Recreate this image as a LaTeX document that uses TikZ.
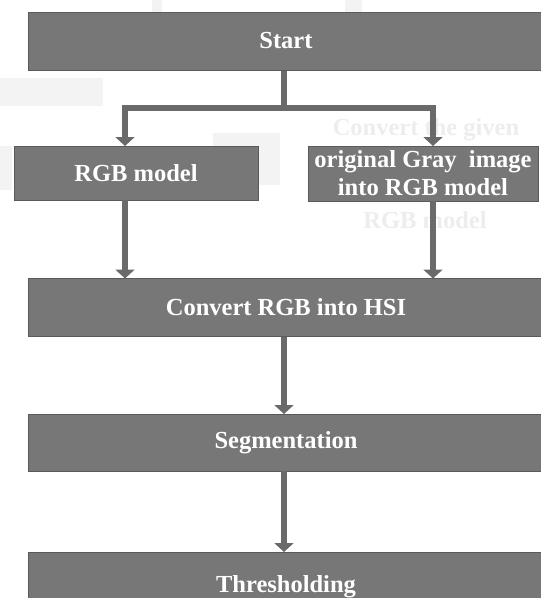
\documentclass[tikz,border=0pt]{standalone}
\usepackage{fontspec}
\setmainfont{Liberation Serif}
\usetikzlibrary{arrows.meta}
\definecolor{boxfill}{HTML}{777777}
\definecolor{boxline}{HTML}{5A5A5A}
\definecolor{arrowc}{HTML}{6A6A6A}
\definecolor{ghost}{HTML}{EDEDED}
\definecolor{ghostb}{HTML}{F3F3F3}
\tikzset{
  box/.style={draw=boxline, line width=1pt, fill=boxfill, text=white,
    font=\bfseries\fontsize{24.5}{28}\selectfont, align=center,
    inner sep=0pt, outer sep=0pt},
  flow/.style={draw=arrowc, line width=6.5pt,
    -{Triangle[width=19pt,length=9pt]}},
  ghosttext/.style={text=ghost, font=\bfseries\fontsize{24.5}{28}\selectfont, inner sep=0pt},
  ghostbox/.style={fill=ghostb, draw=none}
}
\begin{document}
\begin{tikzpicture}[x=1pt,y=-1pt]
\useasboundingbox (0,0) rectangle (541,598);
% faint background blocks
\fill[ghostbox] (0,78) rectangle (103,106);
\fill[ghostbox] (152,0) rectangle (162,12);
\fill[ghostbox] (345,0) rectangle (362,12);
\fill[ghostbox] (213,133) rectangle (280,185);
\fill[ghostbox] (0,146) rectangle (12,190);
% ghost texts
\node[ghosttext] (g1) at (426,130) {Convert the given};
\node[ghosttext] (g2) at (425,220) {RGB model};
% boxes
\node[box, minimum width=516pt, minimum height=58pt] (start) at (286,41) {Start};
\node[box, minimum width=244pt, minimum height=54pt] (rgb) at (136,173) {RGB model};
\node[box, minimum width=230pt, minimum height=55pt] (gray) at (423,173.5) {original Gray\ \ image\\[0pt]into RGB model};
\node[box, minimum width=516pt, minimum height=58pt] (hsi) at (286,307.5) {Convert RGB into HSI};
\node[box, minimum width=516pt, minimum height=57pt] (seg) at (286,442.5) {Segmentation};
\node[box, minimum width=516pt, minimum height=70pt] (thr) at (286,587) {Thresholding};
% branch
\coordinate (split) at (284,108);
\coordinate (lt) at (125,108);
\coordinate (rt) at (433,108);
\draw[draw=arrowc, line width=6.5pt] (284,70.5) -- (split);
\draw[draw=arrowc, line width=6.5pt] ([xshift=-3.25pt]lt) -- ([xshift=3.25pt]rt);
\draw[flow] ([yshift=-3pt]lt) -- (rgb.north -| lt);
\draw[flow] ([yshift=-3pt]rt) -- (gray.north -| rt);
% down arrows
\draw[flow] (rgb.south -| lt) -- (hsi.north -| lt);
\draw[flow] (gray.south -| rt) -- (hsi.north -| rt);
\draw[flow] (hsi.south -| split) -- (seg.north -| split);
\draw[flow] (seg.south -| split) -- (thr.north -| split);
\end{tikzpicture}
\end{document}
